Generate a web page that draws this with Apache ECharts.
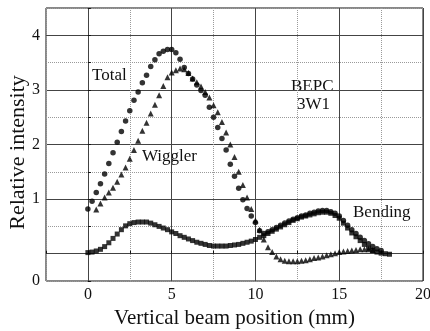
<!DOCTYPE html>
<html>
<head>
<meta charset="utf-8">
<script src="https://cdn.jsdelivr.net/npm/echarts@6/dist/echarts.min.js"></script>
<style>
html,body{margin:0;padding:0;background:#fff;}
#chart{width:430px;height:331px;}
</style>
</head>
<body>
<div id="chart"></div>
<script>
// ---- data ----
var totalX = [0,0.25,0.5,0.75,1,1.25,1.5,1.75,2,2.25,2.5,2.75,3,3.25,3.5,3.75,4,4.25,4.5,4.75,5,5.25,5.5,5.75,6,6.25,6.5,6.75,7,7.25,7.5,7.75,8,8.25,8.5,8.75,9,9.25,9.5,9.75,10,10.25,10.5,10.75,11,11.25,11.5,11.75,12,12.25,12.5,12.75,13,13.25,13.5,13.75,14,14.25,14.5,14.75,15,15.25,15.5,15.75,16,16.25,16.5,16.75,17,17.25,17.5];
var totalY = [0.82,0.96,1.12,1.28,1.46,1.65,1.85,2.04,2.24,2.43,2.62,2.81,2.96,3.13,3.27,3.43,3.55,3.66,3.71,3.74,3.74,3.68,3.56,3.41,3.30,3.20,3.09,2.99,2.90,2.68,2.50,2.31,2.11,1.90,1.64,1.42,1.20,0.99,0.83,0.69,0.57,0.42,0.37,0.40,0.44,0.48,0.52,0.56,0.60,0.63,0.66,0.69,0.71,0.74,0.76,0.78,0.79,0.79,0.77,0.74,0.69,0.61,0.52,0.44,0.37,0.30,0.24,0.18,0.13,0.09,0.06];

var wigglerX = [0.5,0.75,1,1.25,1.5,1.75,2,2.25,2.5,2.75,3,3.25,3.5,3.75,4,4.25,4.5,4.75,5,5.25,5.5,5.75,6,6.25,6.5,6.75,7,7.25,7.5,7.75,8,8.25,8.5,8.75,9,9.25,9.5,9.75,10,10.25,10.5,10.75,11,11.25,11.5,11.75,12,12.25,12.5,12.75,13,13.25,13.5,13.75,14,14.25,14.5,14.75,15,15.25,15.5,15.75,16,16.25,16.5,16.75,17];
var wigglerY = [0.81,0.92,1.03,1.12,1.21,1.32,1.45,1.58,1.74,1.90,2.07,2.25,2.40,2.57,2.73,2.90,3.07,3.23,3.32,3.36,3.39,3.38,3.31,3.21,3.14,3.06,2.96,2.86,2.72,2.59,2.41,2.22,2.00,1.77,1.50,1.26,1.03,0.82,0.61,0.44,0.26,0.12,0.03,-0.05,-0.10,-0.13,-0.14,-0.14,-0.14,-0.13,-0.12,-0.10,-0.08,-0.07,-0.05,-0.03,-0.01,0.01,0.03,0.04,0.05,0.06,0.07,0.08,0.08,0.08,0.07];

var bendingX = [0,0.25,0.5,0.75,1,1.25,1.5,1.75,2,2.25,2.5,2.75,3,3.25,3.5,3.75,4,4.25,4.5,4.75,5,5.25,5.5,5.75,6,6.25,6.5,6.75,7,7.25,7.5,7.75,8,8.25,8.5,8.75,9,9.25,9.5,9.75,10,10.25,10.5,10.75,11,11.25,11.5,11.75,12,12.25,12.5,12.75,13,13.25,13.5,13.75,14,14.25,14.5,14.75,15,15.25,15.5,15.75,16,16.25,16.5,16.75,17,17.25,17.5,17.75,18];
var bendingY = [0.02,0.03,0.05,0.08,0.13,0.20,0.28,0.36,0.44,0.51,0.55,0.57,0.58,0.58,0.58,0.56,0.53,0.50,0.47,0.44,0.40,0.37,0.33,0.30,0.27,0.24,0.21,0.19,0.17,0.15,0.14,0.14,0.14,0.14,0.15,0.16,0.17,0.19,0.21,0.23,0.26,0.30,0.33,0.37,0.41,0.45,0.49,0.53,0.57,0.61,0.64,0.67,0.69,0.71,0.73,0.75,0.76,0.76,0.74,0.70,0.65,0.56,0.47,0.38,0.31,0.24,0.17,0.10,0.06,0.03,0.01,0.00,-0.01];

var xTickValues = [0,5,10,15,20];
var xTickLabels = ['0','5','10','15','20'];
var yTickValues = [-0.5,1,2,3,4];
var yTickLabels = ['0','1','2','3','4'];

var xAxisTitle = 'Vertical beam position (mm)';
var yAxisTitle = 'Relative intensity';
var annotations = ['Total','Wiggler','BEPC','3W1','Bending'];

function zip(xs, ys){ return xs.map(function(x,i){ return [x, ys[i]]; }); }
function tickFmt(values, labels){
  return function(v){
    for (var i=0;i<values.length;i++){ if (Math.abs(values[i]-v)<1e-9) return labels[i]; }
    return '';
  };
}

var FONT = '"Liberation Serif", "DejaVu Serif", serif';
var chart = echarts.init(document.getElementById('chart'), null, {renderer:'canvas'});

var gridBox = {left:46, right:7, top:8, bottom:50};

function baseX(extra){
  return Object.assign({
    type:'value', min:-2.5, max:20, interval:2.5, gridIndex:0,
    axisLine:{show:false}, axisTick:{show:false}
  }, extra);
}
function baseY(extra){
  return Object.assign({
    type:'value', min:-0.5, max:4.5, interval:0.5, gridIndex:0,
    axisLine:{show:false}, axisTick:{show:false}
  }, extra);
}

var option = {
  animation:false,
  backgroundColor:'#fff',
  grid:[Object.assign({show:true, borderColor:'#111', borderWidth:1, backgroundColor:'transparent', containLabel:false, outerBoundsMode:'none'}, gridBox)],
  xAxis:[
    baseX({
      position:'bottom',
      axisTick:{show:true, inside:true, length:3, lineStyle:{color:'#111'}},
      axisLabel:{show:true, showMinLabel:true, showMaxLabel:true, formatter:tickFmt(xTickValues,xTickLabels), color:'#111', fontFamily:FONT, fontSize:16, margin:6},
      splitLine:{show:true, lineStyle:{type:'dotted', color:'#9a9a9a', width:1}},
      name:xAxisTitle, nameLocation:'middle', nameGap:27,
      nameTextStyle:{color:'#111', fontFamily:FONT, fontSize:21}
    }),
    baseX({
      position:'bottom',
      axisLabel:{show:false},
      splitLine:{show:true, lineStyle:{type:'solid', color:['rgba(0,0,0,0)','#444'], width:1}}
    })
  ],
  yAxis:[
    baseY({
      position:'left',
      axisTick:{show:true, inside:true, length:3, lineStyle:{color:'#111'}},
      axisLabel:{show:true, showMinLabel:true, showMaxLabel:true, formatter:tickFmt(yTickValues,yTickLabels), color:'#111', fontFamily:FONT, fontSize:16, margin:6},
      splitLine:{show:true, lineStyle:{type:'dotted', color:'#9a9a9a', width:1}},
      name:yAxisTitle, nameLocation:'middle', nameGap:17, nameRotate:90, nameMoveOverlap:false,
      nameTextStyle:{color:'#111', fontFamily:FONT, fontSize:22, padding:[0,16,0,0]}
    }),
    baseY({
      position:'left',
      axisLabel:{show:false},
      splitLine:{show:true, lineStyle:{type:'solid', color:['rgba(0,0,0,0)','#444'], width:1}}
    })
  ],
  series:[
    {
      name:'Bending', type:'scatter', xAxisIndex:0, yAxisIndex:0,
      symbol:'rect', symbolSize:5, itemStyle:{color:'#000'},
      data:zip(bendingX, bendingY), z:3
    },
    {
      name:'Wiggler', type:'scatter', xAxisIndex:0, yAxisIndex:0,
      symbol:'triangle', symbolSize:6, itemStyle:{color:'#000'},
      data:zip(wigglerX, wigglerY), z:4
    },
    {
      name:'Total', type:'scatter', xAxisIndex:0, yAxisIndex:0,
      symbol:'circle', symbolSize:5.5, itemStyle:{color:'#000'},
      data:zip(totalX, totalY), z:5
    }
  ],
  graphic:[
    {type:'text', left:92, top:67, style:{text:annotations[0], fill:'#111', font:'17px ' + FONT}},
    {type:'text', left:142, top:148, style:{text:annotations[1], fill:'#111', font:'17px ' + FONT}},
    {type:'text', left:291, top:78, style:{text:annotations[2], fill:'#111', font:'17px ' + FONT}},
    {type:'text', left:297, top:96, style:{text:annotations[3], fill:'#111', font:'17px ' + FONT}},
    {type:'text', left:353, top:204, style:{text:annotations[4], fill:'#111', font:'17px ' + FONT}}
  ]
};
chart.setOption(option);
</script>
</body>
</html>
